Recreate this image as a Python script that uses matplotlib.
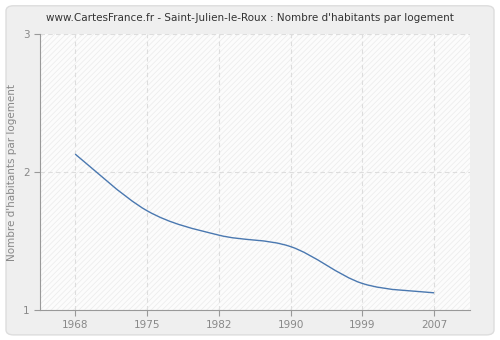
import numpy as np
import matplotlib
matplotlib.use("Agg")
from matplotlib import pyplot as plt
from matplotlib.path import Path
from matplotlib.patches import PathPatch, FancyBboxPatch

years = ['1968', '1975', '1982', '1990', '1999', '2007']
values = [2.13, 1.72, 1.543, 1.46, 1.193, 1.125]
yticks = [1, 2, 3]
title = "www.CartesFrance.fr - Saint-Julien-le-Roux : Nombre d'habitants par logement"
ylabel = "Nombre d'habitants par logement"

plt.rcParams['hatch.linewidth'] = 0.5
fig = plt.figure(figsize=(5, 3.4), dpi=100)
fig.patch.set_facecolor('white')
# rounded grey card behind everything
card = FancyBboxPatch((0.012, 0.015), 0.976, 0.968, boxstyle="round,pad=0,rounding_size=0.015",
                      transform=fig.transFigure, facecolor='#efefef', edgecolor='#dddddd', lw=1,
                      zorder=-10)
fig.patches.append(card)

ax = fig.add_axes([0.08, 0.088, 0.86, 0.812])
ax.set_facecolor('#fcfcfc')
ax.add_patch(plt.Rectangle((0, 0), 1, 1, transform=ax.transAxes, facecolor='none',
                           edgecolor='#ebebeb', hatch='//////', lw=0, zorder=0))

# categories are evenly spaced; smooth curve through the points (Catmull-Rom as bezier)
x = np.arange(len(years), dtype=float)
y = np.array(values, dtype=float)
verts = [(x[0], y[0])]
codes = [Path.MOVETO]
for i in range(len(x) - 1):
    x0, y0 = (x[i - 1], y[i - 1]) if i > 0 else (x[i], y[i])
    x3, y3 = (x[i + 2], y[i + 2]) if i + 2 < len(x) else (x[i + 1], y[i + 1])
    c1 = (x[i] + (x[i + 1] - x0) / 6, y[i] + (y[i + 1] - y0) / 6)
    c2 = (x[i + 1] - (x3 - x[i]) / 6, y[i + 1] - (y3 - y[i]) / 6)
    verts += [c1, c2, (x[i + 1], y[i + 1])]
    codes += [Path.CURVE4] * 3
ax.add_patch(PathPatch(Path(verts, codes), facecolor='none', edgecolor='#4a78b0', lw=1, zorder=3))

ax.set_xlim(-0.49, 5.5)
ax.set_ylim(1, 3)
ax.set_xticks(x)
ax.set_xticklabels(years)
ax.set_yticks(yticks)
ax.grid(True, color='#dddddd', linestyle=(0, (4, 3)), lw=0.8)
ax.set_axisbelow(True)
for s in ['top', 'right']:
    ax.spines[s].set_visible(False)
for s in ['left', 'bottom']:
    ax.spines[s].set_color('#999999')
ax.tick_params(colors='#888888', labelsize=7.5, length=4, color='#999999')
ax.set_ylabel(ylabel, color='#888888', fontsize=7.5)
fig.text(0.5, 0.948, title, ha='center', va='center', fontsize=7.5, color='#333333')

fig.savefig('out.png', dpi=100)
